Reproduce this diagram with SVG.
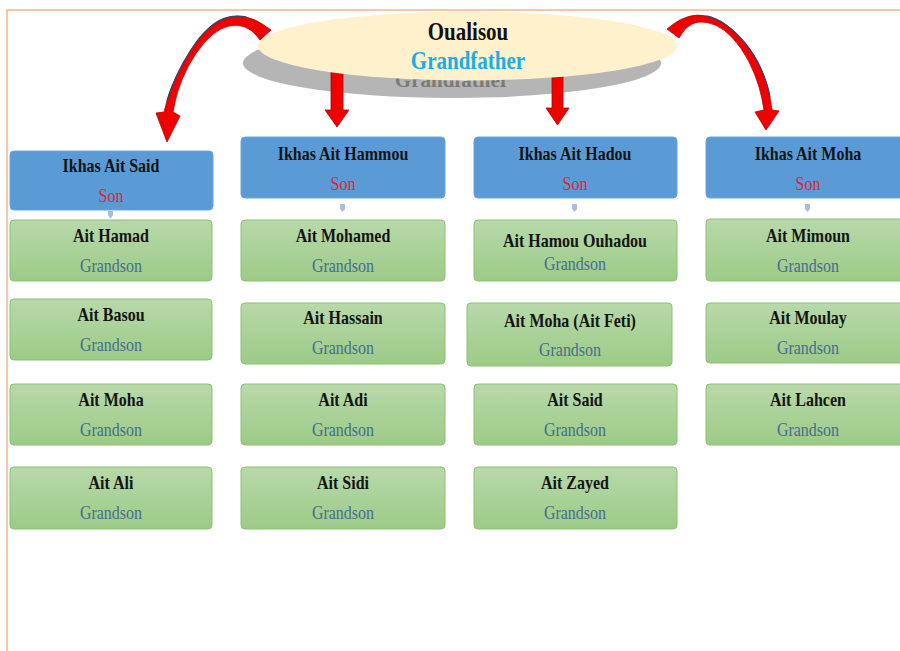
<svg xmlns="http://www.w3.org/2000/svg" width="900" height="651" viewBox="0 0 900 651">
<defs>
<linearGradient id="gr" x1="0" y1="0" x2="0" y2="1">
<stop offset="0" stop-color="#b8d9aa"/>
<stop offset="1" stop-color="#9ccb86"/>
</linearGradient>
<style>
.son{fill:#5b9bd5;stroke:#6aa5dc;stroke-width:1}
.gbox{fill:url(#gr);stroke:#8dc073;stroke-width:1}
text{font-family:"Liberation Serif","Times New Roman",serif;text-anchor:middle;transform-box:fill-box;transform-origin:center;transform:scaleY(1.2)}
.nm{font-weight:bold;font-size:16px;fill:#151515}
.sn{font-size:16px;fill:#e0223a}
.gs{font-size:16px;fill:#466c92}
.red{fill:#f00000;stroke:#b00000;stroke-width:0.8}
.tiny{fill:#a9bddc}
</style>
</defs>
<rect x="0" y="0" width="900" height="651" fill="#ffffff"/>
<path d="M7,651 L7,10 L900,10" fill="none" stroke="#f6b48c" stroke-width="1.5"/>

<g id="grandfather-shadow">
<ellipse cx="452" cy="63" rx="209" ry="35" fill="#b5b5b5"/>
<text x="452" y="87" style="font-weight:bold;font-size:21px;fill:#7a7a7a;transform:none">Grandfather</text>
</g>

<g id="connectors">
<path class="red" d="M271,30 L263,24.5 Q255,19 246,17 Q237,15 227.5,17.5 Q218,20 209,28 Q200,36 191.5,49 Q183,62 176.5,76 Q170,90 167,101 L164,112 L156,113 L167,142 L180,116 L173,112 L175,102 Q177,92 182.5,78.5 Q188,65 196,53.5 Q204,42 212,35 Q220,28 229,26 Q238,24 245,27 Q252,30 256,35 L260,40 Z"/>
<path d="M246,17 Q237,15 227.5,17.5 Q218,20 209,28 Q200,36 191.5,49 Q183,62 176.5,76 Q170,90 167,101" fill="none" stroke="#34466e" stroke-width="1.3"/>
<path class="red" d="M667,29 L673.5,24 Q680,19 688.5,16.5 Q697,14 706.5,16 Q716,18 725.5,24.5 Q735,31 745,43 Q755,55 761.5,70 Q768,85 770,97.5 L772,110 L779,111 L766,130 L755,112 L764,110 L762,99 Q760,88 754.5,74 Q749,60 741,48.5 Q733,37 724.5,30.5 Q716,24 707,22.5 Q698,21 692,24 Q686,27 682.5,32.5 L679,38 Z"/>
<path d="M706.5,16 Q716,18 725.5,24.5 Q735,31 745,43 Q755,55 761.5,70 Q768,85 770,97.5" fill="none" stroke="#34466e" stroke-width="1.3"/>
<path class="red" d="M331,66 L343,66 L343,110 L349,110 L337,127 L325,110 L331,110 Z"/>
<path class="red" d="M552,66 L563,66 L563,108 L569,108 L557.5,125 L546,108 L552,108 Z"/>
<path class="tiny" d="M108,211 L113,211 L113,215 L110.5,219 L108,215 Z"/>
<path class="tiny" d="M340,204 L345,204 L345,209 L342.5,212 L340,209 Z"/>
<path class="tiny" d="M572,204 L577,204 L577,209 L574.5,212 L572,209 Z"/>
<path class="tiny" d="M805,204 L810,204 L810,209 L807.5,212 L805,209 Z"/>
</g>

<g id="grandfather">
<ellipse cx="467.5" cy="46" rx="209.5" ry="34.5" fill="#fff1cc"/>
<text x="468" y="39" style="font-weight:bold;font-size:21px;fill:#111">Oualisou</text>
<text x="468" y="68" style="font-weight:bold;font-size:21px;fill:#1aaee6">Grandfather</text>
</g>

<g id="son-said"><rect class="son" x="10" y="151" width="203" height="59" rx="4"/><text class="nm" x="111" y="171">Ikhas Ait Said</text><text class="sn" x="111" y="201">Son</text></g>
<g id="son-hammou"><rect class="son" x="241" y="137" width="204" height="61" rx="4"/><text class="nm" x="343" y="159">Ikhas Ait Hammou</text><text class="sn" x="343" y="189">Son</text></g>
<g id="son-hadou"><rect class="son" x="474" y="137" width="203" height="61" rx="4"/><text class="nm" x="575" y="159">Ikhas Ait Hadou</text><text class="sn" x="575" y="189">Son</text></g>
<g id="son-moha"><rect class="son" x="706" y="137" width="204" height="61" rx="4"/><text class="nm" x="808" y="159">Ikhas Ait Moha</text><text class="sn" x="808" y="189">Son</text></g>

<g id="gs-hamad"><rect class="gbox" x="10" y="220" width="202" height="61" rx="4"/><text class="nm" x="111" y="241">Ait Hamad</text><text class="gs" x="111" y="271">Grandson</text></g>
<g id="gs-basou"><rect class="gbox" x="10" y="299" width="202" height="61" rx="4"/><text class="nm" x="111" y="320">Ait Basou</text><text class="gs" x="111" y="350">Grandson</text></g>
<g id="gs-moha1"><rect class="gbox" x="10" y="384" width="202" height="61" rx="4"/><text class="nm" x="111" y="405">Ait Moha</text><text class="gs" x="111" y="435">Grandson</text></g>
<g id="gs-ali"><rect class="gbox" x="10" y="467" width="202" height="62" rx="4"/><text class="nm" x="111" y="488">Ait Ali</text><text class="gs" x="111" y="518">Grandson</text></g>

<g id="gs-mohamed"><rect class="gbox" x="241" y="220" width="204" height="61" rx="4"/><text class="nm" x="343" y="241">Ait Mohamed</text><text class="gs" x="343" y="271">Grandson</text></g>
<g id="gs-hassain"><rect class="gbox" x="241" y="303" width="204" height="61" rx="4"/><text class="nm" x="343" y="323">Ait Hassain</text><text class="gs" x="343" y="353">Grandson</text></g>
<g id="gs-adi"><rect class="gbox" x="241" y="384" width="204" height="61" rx="4"/><text class="nm" x="343" y="405">Ait Adi</text><text class="gs" x="343" y="435">Grandson</text></g>
<g id="gs-sidi"><rect class="gbox" x="241" y="467" width="204" height="62" rx="4"/><text class="nm" x="343" y="488">Ait Sidi</text><text class="gs" x="343" y="518">Grandson</text></g>

<g id="gs-hamou-ouhadou"><rect class="gbox" x="474" y="220" width="203" height="61" rx="4"/><text class="nm" x="575" y="246">Ait Hamou Ouhadou</text><text class="gs" x="575" y="269">Grandson</text></g>
<g id="gs-moha-feti"><rect class="gbox" x="467" y="303" width="205" height="63" rx="4"/><text class="nm" x="570" y="326">Ait Moha (Ait Feti)</text><text class="gs" x="570" y="355">Grandson</text></g>
<g id="gs-said"><rect class="gbox" x="474" y="384" width="203" height="61" rx="4"/><text class="nm" x="575" y="405">Ait Said</text><text class="gs" x="575" y="435">Grandson</text></g>
<g id="gs-zayed"><rect class="gbox" x="474" y="467" width="203" height="62" rx="4"/><text class="nm" x="575" y="488">Ait Zayed</text><text class="gs" x="575" y="518">Grandson</text></g>

<g id="gs-mimoun"><rect class="gbox" x="706" y="219" width="204" height="62" rx="4"/><text class="nm" x="808" y="241">Ait Mimoun</text><text class="gs" x="808" y="271">Grandson</text></g>
<g id="gs-moulay"><rect class="gbox" x="706" y="303" width="204" height="60" rx="4"/><text class="nm" x="808" y="323">Ait Moulay</text><text class="gs" x="808" y="353">Grandson</text></g>
<g id="gs-lahcen"><rect class="gbox" x="706" y="384" width="204" height="61" rx="4"/><text class="nm" x="808" y="405">Ait Lahcen</text><text class="gs" x="808" y="435">Grandson</text></g>
</svg>
